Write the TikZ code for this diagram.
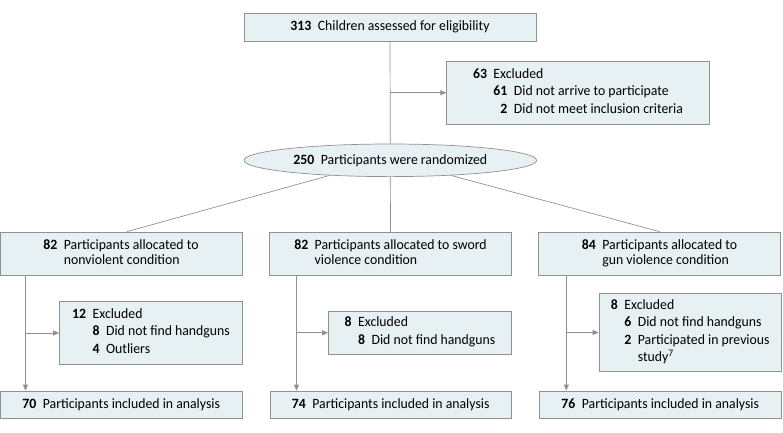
\documentclass[tikz,border=0pt]{standalone}
\usepackage{fontspec}
\setmainfont{Carlito}[FakeStretch=0.97]
\usetikzlibrary{arrows.meta,shapes.geometric}
\definecolor{boxfill}{RGB}{231,240,243}
\definecolor{linegray}{RGB}{145,145,145}
\newcommand{\nm}[1]{\textbf{#1}}
\newcommand{\gp}{\hspace{6.5pt}}
\begin{document}
\begin{tikzpicture}[x=1pt,y=-1pt,
  every node/.style={font=\fontsize{14.2}{14.7}\selectfont, inner sep=0pt},
  flowbox/.style={draw=linegray, fill=boxfill, line width=0.7pt, rectangle, align=center},
  oval/.style={draw=linegray, fill=boxfill, line width=0.7pt, ellipse},
  conn/.style={draw=linegray, line width=0.7pt},
  arr/.style={conn, -{Triangle[length=6pt,width=5pt]}}]
\useasboundingbox (0,0) rectangle (783,432);

% top
\node[flowbox, minimum width=292, minimum height=28] (top) at (390,27)
  {\nm{313}\gp Children assessed for eligibility};
\node[flowbox, minimum width=262.6, minimum height=63.3] (ex0) at (578,92.7)
  {\begin{tabular}{@{}r@{\gp}r@{\gp}l@{}}
   \nm{63} & \multicolumn{2}{@{}l@{}}{Excluded}\\[2.8pt]
   & \nm{61} & Did not arrive to participate\\[2.8pt]
   & \nm{2} & Did not meet inclusion criteria
   \end{tabular}};
\node[oval, minimum width=292.6, minimum height=32.6] (rand) at (390.3,160.3)
  {\nm{250}\gp Participants were randomized};

% allocation
\node[flowbox, minimum width=242, minimum height=43.7] (a1) at (121,253.8)
  {\begin{tabular}{@{}r@{\gp}l@{}}
   \nm{82} & Participants allocated to\\ & nonviolent condition\end{tabular}};
\node[flowbox, minimum width=242.4, minimum height=43.7] (a2) at (390.5,253.8)
  {\begin{tabular}{@{}r@{\gp}l@{}}
   \nm{82} & Participants allocated to sword\\ & violence condition\end{tabular}};
\node[flowbox, minimum width=242.4, minimum height=43.7] (a3) at (659.5,253.8)
  {\begin{tabular}{@{}r@{\gp}l@{}}
   \nm{84} & Participants allocated to\\ & gun violence condition\end{tabular}};

% exclusions
\node[flowbox, minimum width=183, minimum height=62.6] (e1) at (151,333)
  {\begin{tabular}{@{}r@{\gp}r@{\gp}l@{}}
   \nm{12} & \multicolumn{2}{@{}l@{}}{Excluded}\\[3pt]
   & \nm{8} & Did not find handguns\\[3pt]
   & \nm{4} & Outliers
   \end{tabular}};
\node[flowbox, minimum width=183, minimum height=42.3] (e2) at (420,332.8)
  {\begin{tabular}{@{}r@{\gp}r@{\gp}l@{}}
   \nm{8} & \multicolumn{2}{@{}l@{}}{Excluded}\\[3pt]
   & \nm{8} & Did not find handguns
   \end{tabular}};
\node[flowbox, minimum width=182.5, minimum height=78.4] (e3) at (690.2,332.5)
  {\begin{tabular}{@{}r@{\gp}r@{\gp}l@{}}
   \nm{8} & \multicolumn{2}{@{}l@{}}{Excluded}\\[3pt]
   & \nm{6} & Did not find handguns\\[3pt]
   & \nm{2} & Participated in previous\\[1pt]
   & & study\textsuperscript{7}
   \end{tabular}};

% analysis
\node[flowbox, minimum width=242.5, minimum height=27] (b1) at (121.2,404.5)
  {\nm{70}\gp Participants included in analysis};
\node[flowbox, minimum width=241.5, minimum height=27] (b2) at (390.7,404.5)
  {\nm{74}\gp Participants included in analysis};
\node[flowbox, minimum width=242.5, minimum height=27] (b3) at (660.2,404.5)
  {\nm{76}\gp Participants included in analysis};

\coordinate (v1) at (25.5,0);
\coordinate (v2) at (296.5,0);
\coordinate (v3) at (566.3,0);

% connectors
\draw[conn] (top.south) -- (rand.north);
\draw[arr] (top.south |- ex0.west) -- (ex0.west);
\draw[conn] (rand.194.3) -- ([xshift=6]a1.north);
\draw[conn] (rand.south) -- (a2.north);
\draw[conn] (rand.346.3) -- (a3.north);

\draw[arr] (a1.south -| v1) -- (b1.north -| v1);
\draw[arr] (e1.west -| v1) -- (e1.west);
\draw[arr] (a2.south -| v2) -- (b2.north -| v2);
\draw[arr] (e2.west -| v2) -- (e2.west);
\draw[arr] (a3.south -| v3) -- (b3.north -| v3);
\draw[arr] (e3.west -| v3) -- (e3.west);
\end{tikzpicture}
\end{document}
